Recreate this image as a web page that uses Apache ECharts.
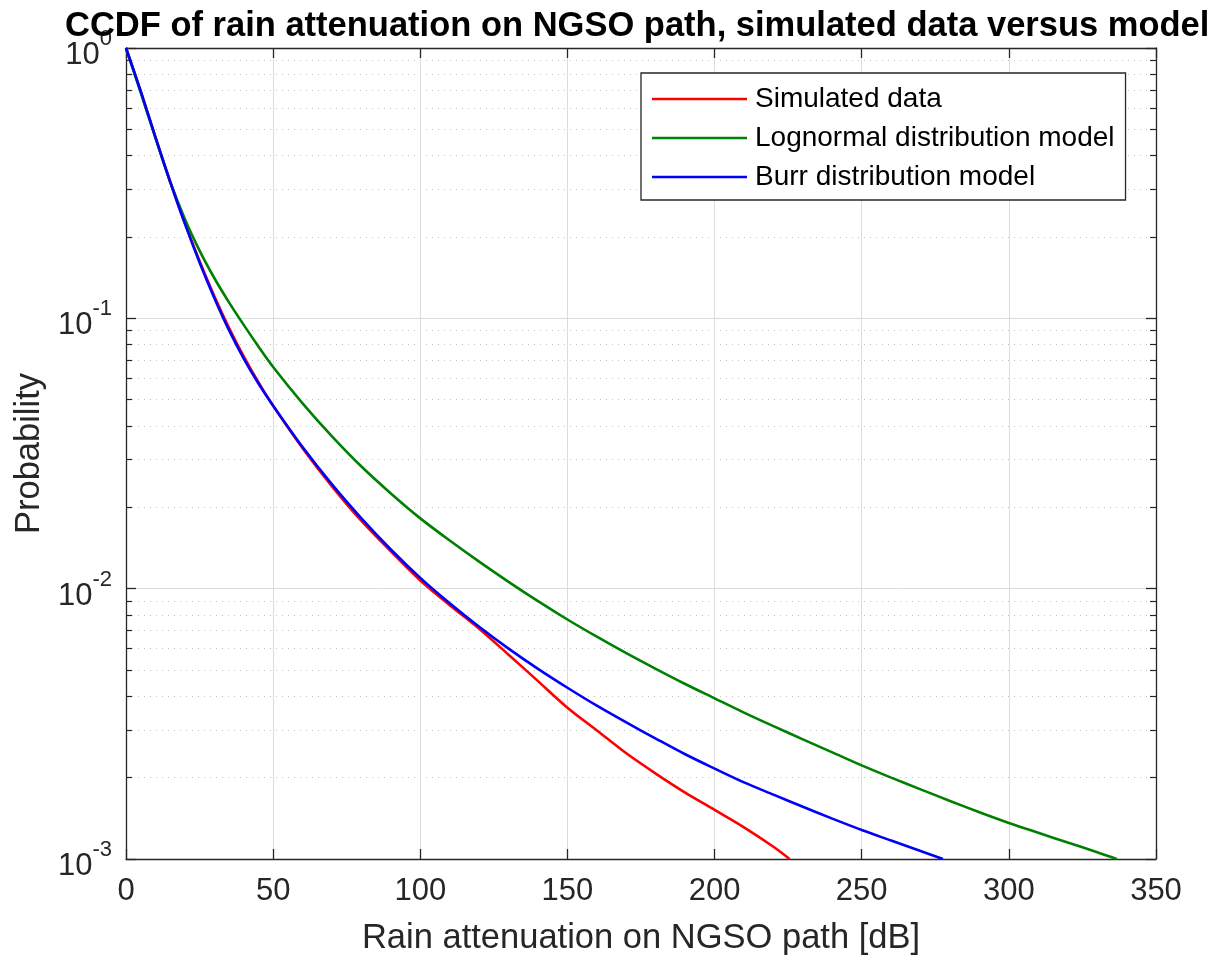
<!DOCTYPE html>
<html>
<head>
<meta charset="utf-8">
<script src="https://cdn.jsdelivr.net/npm/echarts/dist/echarts.min.js"></script>
<style>html,body{margin:0;padding:0;background:#fff}#c{width:1224px;height:958px}</style>
</head>
<body>
<div id="c"></div>
<script>
// ---- data ----
const titleText = 'CCDF of rain attenuation on NGSO path, simulated data versus model';
const xLabel = 'Rain attenuation on NGSO path [dB]';
const yLabel = 'Probability';
const seriesNames = ['Simulated data', 'Lognormal distribution model', 'Burr distribution model'];
const xTicks = [0, 50, 100, 150, 200, 250, 300, 350];
const yDecades = [0.001, 0.01, 0.1, 1];

const simX = [0,5,10,15,20,25,30,35,40,45,50,60,70,80,90,100,110,120,130,140,150,160,170,180,190,200,210,220,225.5];
const simY = [1,0.692,0.468,0.32,0.225,0.163,0.121,0.0923,0.0724,0.0581,0.0475,0.0331,0.0239,0.0178,0.01374,0.01072,0.00869,0.00711,0.0057,0.00455,0.00363,0.00299,0.00246,0.00207,0.00176,0.00152,0.00131,0.00111,0.001];

const lognX = [0,5,10,15,20,25,30,35,40,45,50,60,70,80,90,100,110,120,130,140,150,160,170,180,190,200,210,220,230,240,250,260,270,280,290,300,310,320,330,336.7];
const lognY = [1,0.684,0.465,0.321,0.233,0.178,0.141,0.1146,0.0946,0.0787,0.0661,0.0485,0.0366,0.0283,0.0225,0.0182,0.01507,0.01259,0.0106,0.00899,0.00769,0.00664,0.00577,0.00505,0.00444,0.00393,0.00348,0.0031,0.00277,0.00248,0.00222,0.002,0.00181,0.00164,0.00149,0.00136,0.00125,0.00115,0.00106,0.001];

const burrX = [0,5,10,15,20,25,30,35,40,45,50,60,70,80,90,100,110,120,130,140,150,160,170,180,190,200,210,220,230,240,250,260,270,277.6];
const burrY = [1,0.692,0.468,0.32,0.224,0.161,0.119,0.0904,0.071,0.0574,0.0475,0.0334,0.0243,0.0182,0.01396,0.01096,0.00883,0.00723,0.006,0.00505,0.0043,0.00369,0.0032,0.00279,0.00244,0.00216,0.00192,0.00173,0.00156,0.00141,0.00128,0.00117,0.00107,0.001];

const colors = ['#ff0000', '#008000', '#0000ff'];

// ---- chart ----
const FONT = '"Liberation Sans", Arial, Helvetica, sans-serif';
const INK = '#262626';
const pairs = (xs, ys) => xs.map((x, i) => [x, ys[i]]);

const chart = echarts.init(document.getElementById('c'), null, {renderer: 'canvas'});

function axisX(pos, showLabel) {
  return {
    type: 'value', position: pos, min: xTicks[0], max: xTicks[xTicks.length - 1],
    interval: xTicks[1] - xTicks[0],
    axisLine: {show: true, onZero: false, lineStyle: {color: INK, width: 1.3}},
    axisTick: {show: true, inside: true, length: 10, lineStyle: {color: INK, width: 1.3}},
    axisLabel: {show: showLabel, fontSize: 31, color: INK, fontFamily: FONT, margin: 17,
                showMinLabel: true, showMaxLabel: true},
    splitLine: {show: showLabel, lineStyle: {color: '#dcdcdc', width: 1}},
    name: showLabel ? xLabel : '', nameLocation: 'middle', nameGap: 62,
    nameTextStyle: {fontSize: 34.5, color: INK, fontFamily: FONT}
  };
}
function axisY(pos, showLabel) {
  return {
    type: 'log', logBase: 10, position: pos, min: yDecades[0], max: yDecades[yDecades.length - 1],
    axisLine: {show: true, onZero: false, lineStyle: {color: INK, width: 1.3}},
    axisTick: {show: true, inside: true, length: 10, lineStyle: {color: INK, width: 1.3}},
    minorTick: {show: true, splitNumber: 9, length: 6, lineStyle: {color: INK, width: 1.2}},
    axisLabel: {
      show: showLabel, margin: 14, showMinLabel: true, showMaxLabel: true,
      formatter: v => '{b|10}{e|' + Math.round(Math.log10(v)) + '}',
      rich: {
        b: {fontSize: 31, lineHeight: 46, verticalAlign: 'bottom', color: INK, fontFamily: FONT},
        e: {fontSize: 22, lineHeight: 22, padding: [3, 0, 0, 0], verticalAlign: 'top', color: INK, fontFamily: FONT}
      }
    },
    splitLine: {show: showLabel, lineStyle: {color: '#dcdcdc', width: 1}},
    minorSplitLine: {show: showLabel, lineStyle: {color: '#c4c4c4', width: 1, type: [1, 5]}},
    name: showLabel ? yLabel : '', nameLocation: 'middle', nameGap: 79, nameRotate: 90,
    nameTextStyle: {fontSize: 34.5, color: INK, fontFamily: FONT}
  };
}

function line(name, data, color) {
  return {
    name: name, type: 'line', data: data, xAxisIndex: 0, yAxisIndex: 0,
    showSymbol: false, symbol: 'none', smooth: 0.3,
    lineStyle: {color: color, width: 2.6}, itemStyle: {color: color},
    z: 3, animation: false
  };
}

chart.setOption({
  animation: false,
  backgroundColor: '#fff',
  title: {
    text: titleText, left: 65, top: 9, padding: 0,
    textStyle: {fontSize: 34.5, fontWeight: 'bold', color: '#000', fontFamily: FONT}
  },
  grid: {left: 126, right: 68, top: 48, bottom: 99, containLabel: false, outerBoundsMode: 'none'},
  legend: {
    orient: 'vertical', left: 641, top: 73,
    data: seriesNames,
    icon: 'rect',
    itemWidth: 95, itemHeight: 2.6, itemGap: 11,
    padding: [12, 11, 9, 11],
    backgroundColor: '#fff', borderColor: INK, borderWidth: 1.3,
    textStyle: {fontSize: 28, color: '#000', fontFamily: FONT, padding: [0, 0, 0, 3]},
    selectedMode: false
  },
  xAxis: [axisX('bottom', true), axisX('top', false)],
  yAxis: [axisY('left', true), axisY('right', false)],
  series: [
    line(seriesNames[0], pairs(simX, simY), colors[0]),
    line(seriesNames[1], pairs(lognX, lognY), colors[1]),
    line(seriesNames[2], pairs(burrX, burrY), colors[2])
  ]
});
</script>
</body>
</html>
